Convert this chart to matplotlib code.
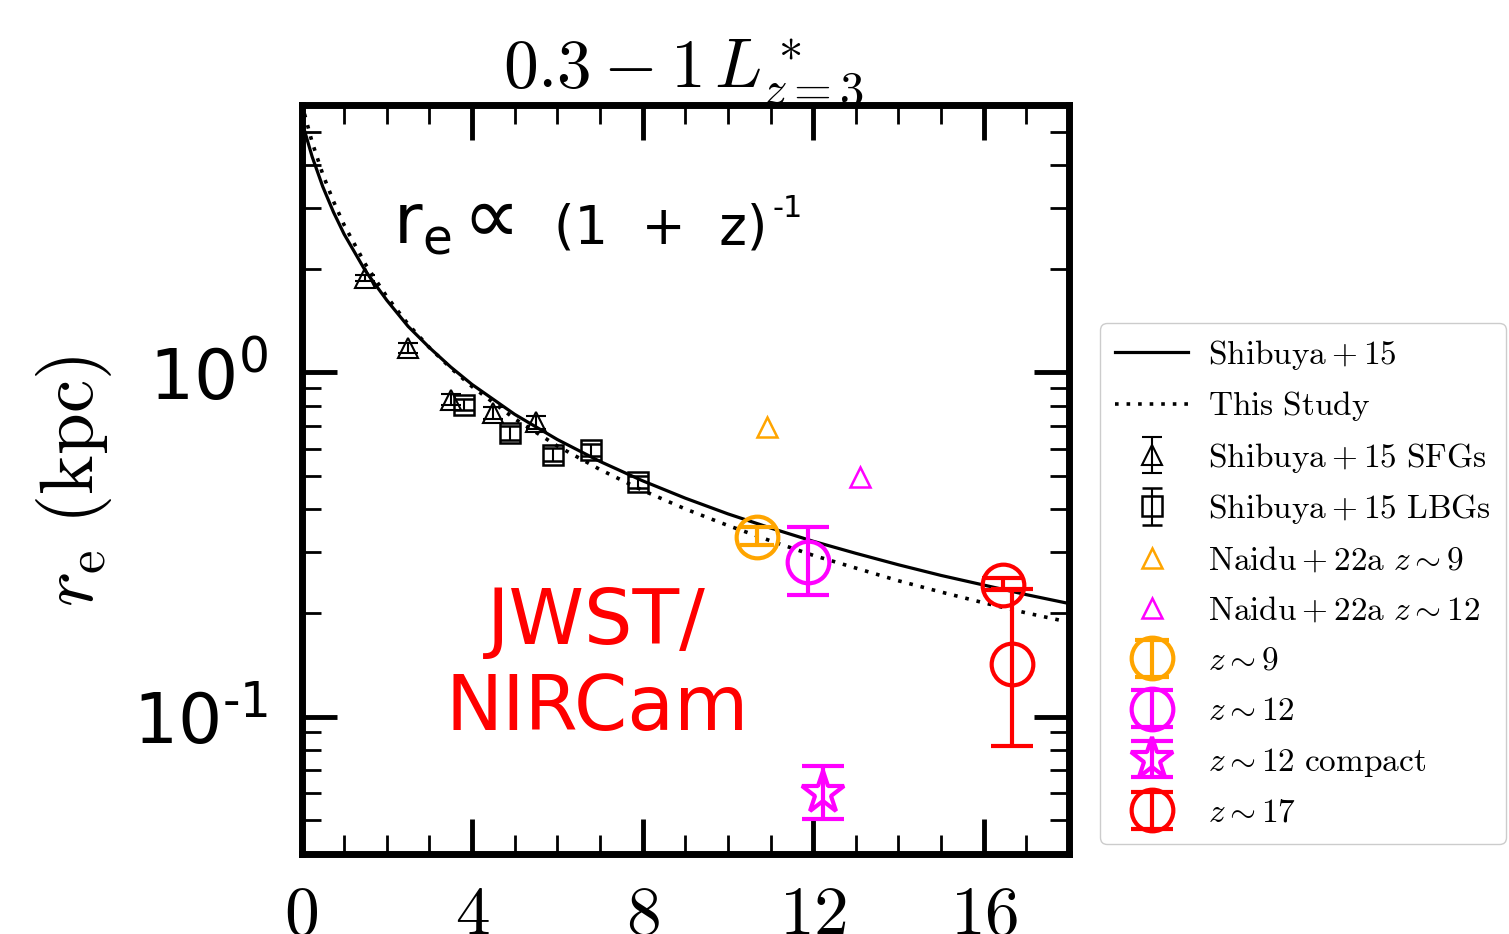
import matplotlib
matplotlib.use("Agg")
import matplotlib.pyplot as plt
from matplotlib.ticker import MultipleLocator, LogLocator, NullFormatter
from matplotlib.legend_handler import HandlerErrorbar
from matplotlib.container import ErrorbarContainer

plt.rcParams['mathtext.fontset'] = 'cm'
plt.rcParams['font.family'] = 'DejaVu Sans'

W, H = 1509, 934

# size-evolution curves
z_model = [0, 0.25, 0.5, 0.75, 1, 1.5, 2, 2.5, 3, 3.5, 4, 5, 6, 7, 8, 9,
           10, 11, 12, 13, 14, 15, 16, 17, 18]
re_shibuya = [5.40, 4.23, 3.46, 2.92, 2.52, 1.97, 1.62, 1.36, 1.18, 1.036,
              0.922, 0.755, 0.638, 0.551, 0.484, 0.431, 0.388, 0.353, 0.323,
              0.298, 0.276, 0.257, 0.241, 0.226, 0.213]
re_this_study = [6.07, 4.66, 3.76, 3.14, 2.68, 2.06, 1.66, 1.38, 1.18, 1.029,
                 0.909, 0.733, 0.611, 0.522, 0.454, 0.401, 0.359, 0.324, 0.294,
                 0.270, 0.248, 0.230, 0.214, 0.200, 0.188]

# Shibuya+15 SFGs / LBGs
sfg_z = [1.5, 2.5, 3.5, 4.5, 5.5]
sfg_re = [1.88, 1.18, 0.833, 0.764, 0.715]
sfg_err = [0.04, 0.04, 0.03, 0.03, 0.03]
lbg_z = [3.8, 4.9, 5.9, 6.8, 7.9]
lbg_re = [0.806, 0.668, 0.577, 0.596, 0.481]
lbg_err = [0.03, 0.03, 0.025, 0.025, 0.02]

# Naidu+22a
naidu9_z, naidu9_re = [10.92], [0.695]
naidu12_z, naidu12_re = [13.1], [0.497]

# JWST samples
z9_z, z9_re = [10.68], [0.333]
z9_lo, z9_hi = [0.018], [0.023]
z12_z, z12_re = [11.88], [0.282]
z12_lo, z12_hi = [0.056], [0.074]
z12c_z, z12c_re = [12.23], [0.060]
z12c_lo, z12c_hi = [0.0095], [0.0119]
z17_z = [16.45, 16.66]
z17_re = [0.2415, 0.142]
z17_lo = [0.009, 0.0598]
z17_hi = [0.0115, 0.093]


def fxy(px, py):
    # pixel position in the picture -> figure fraction
    return px / W, 1 - py / H


fig = plt.figure(figsize=(W / 100, H / 100), dpi=100)
ax = fig.add_axes([301.5 / W, 1 - 853.5 / H, 767.5 / W, 749 / H])

h = []
h += ax.plot(z_model, re_shibuya, color='black', lw=2.3, label=r'$\rm Shibuya+15$')
h += ax.plot(z_model, re_this_study, color='black', lw=2.6, linestyle=(0, (1, 2.2)),
             label=r'$\rm This\ Study$')

h.append(ax.errorbar(sfg_z, sfg_re, yerr=sfg_err, fmt='^', ms=15, mfc='none',
                     mec='black', mew=1.5, ecolor='black', elinewidth=1.5,
                     capsize=7, capthick=1.5, label=r'$\rm Shibuya+15\ SFGs$'))
h.append(ax.errorbar(lbg_z, lbg_re, yerr=lbg_err, fmt='s', ms=14, mfc='none',
                     mec='black', mew=1.8, ecolor='black', elinewidth=1.5,
                     capsize=7, capthick=1.5, label=r'$\rm Shibuya+15\ LBGs$'))
h += ax.plot(naidu9_z, naidu9_re, '^', ms=15, mfc='none', mec='orange', mew=1.8,
             label=r'$\rm Naidu+22a\ \mathit{z}\sim9$')
h += ax.plot(naidu12_z, naidu12_re, '^', ms=15, mfc='none', mec='magenta', mew=1.8,
             label=r'$\rm Naidu+22a\ \mathit{z}\sim12$')

h.append(ax.errorbar(z9_z, z9_re, yerr=[z9_lo, z9_hi], fmt='o', ms=30, mfc='none',
                     mec='orange', mew=3, ecolor='orange', elinewidth=3,
                     capsize=12, capthick=3, label=r'$z\sim9$'))
h.append(ax.errorbar(z12_z, z12_re, yerr=[z12_lo, z12_hi], fmt='o', ms=30,
                     mfc='none', mec='magenta', mew=3, ecolor='magenta',
                     elinewidth=3, capsize=15, capthick=3, label=r'$z\sim12$'))
h.append(ax.errorbar(z12c_z, z12c_re, yerr=[z12c_lo, z12c_hi], fmt='*', ms=32,
                     mfc='none', mec='magenta', mew=3, ecolor='magenta',
                     elinewidth=3, capsize=15, capthick=3,
                     label=r'$z\sim12\ {\rm compact}$'))
h.append(ax.errorbar(z17_z, z17_re, yerr=[z17_lo, z17_hi], fmt='o', ms=30,
                     mfc='none', mec='red', mew=3, ecolor='red', elinewidth=3,
                     capsize=15, capthick=3, label=r'$z\sim17$'))

ax.set_yscale('log')
ax.set_xlim(0, 18)
ax.set_ylim(0.04, 6)

ax.set_xticks([0, 4, 8, 12, 16])
ax.set_xticklabels(['$0$', '$4$', '$8$', '$12$', '$16$'])
ax.xaxis.set_minor_locator(MultipleLocator(1))
ax.set_yticks([0.1, 1])
ax.set_yticklabels(['10$^{\\mathregular{\u20101}}$', r'10$^{\mathregular{0}}$'])
ax.yaxis.set_minor_locator(LogLocator(base=10, subs=range(2, 10)))
ax.yaxis.set_minor_formatter(NullFormatter())
for lbl in ax.get_yticklabels():
    lbl.set_math_fontfamily('dejavusans')

ax.tick_params(which='major', direction='in', length=25, width=3.5,
               top=True, right=True)
ax.tick_params(which='minor', direction='in', length=14, width=2,
               top=True, right=True)
ax.tick_params(axis='x', labelsize=50, pad=20)
ax.tick_params(axis='y', labelsize=50, pad=24)
for sp in ax.spines.values():
    sp.set_linewidth(5)

ax.set_ylabel(r'$r_{\rm e}\ {\rm (kpc)}$', fontsize=54, va='center')
ax.yaxis.set_label_coords(-0.2964, 0.497)

ax.text(0.497, 1.022, r'$0.3-1\,L^*_{z=3}$', transform=ax.transAxes,
        ha='center', va='baseline', fontsize=50)

# r_e ∝ (1 + z)^-1, set piece by piece as on the slide
fig.text(*fxy(393, 243), r'r$_{\mathregular{e}}$', ha='left', va='baseline',
         fontsize=50, math_fontfamily='dejavusans')
fig.text(*fxy(462, 243), '∝', ha='left', va='baseline', fontsize=58)
fig.text(*fxy(554, 243), '(1  +  z)', ha='left', va='baseline', fontsize=38)
fig.text(*fxy(773, 217), '\u20101', ha='left', va='baseline', fontsize=22)

fig.text(*fxy(596, 644), 'JWST/', ha='center', va='baseline', fontsize=55,
         color='red')
fig.text(*fxy(597, 730), 'NIRCam', ha='center', va='baseline', fontsize=55,
         color='red')

ax.legend(h, [x.get_label() for x in h], loc='upper left',
          bbox_to_anchor=fxy(1100, 323), bbox_transform=fig.transFigure,
          borderaxespad=0, fontsize=24, numpoints=1, handlelength=2.2,
          handletextpad=0.6, labelspacing=0.52, borderpad=0.45,
          edgecolor='0.8', framealpha=1,
          handler_map={ErrorbarContainer: HandlerErrorbar(yerr_size=0.55)})

fig.savefig('out.png', dpi=100)
